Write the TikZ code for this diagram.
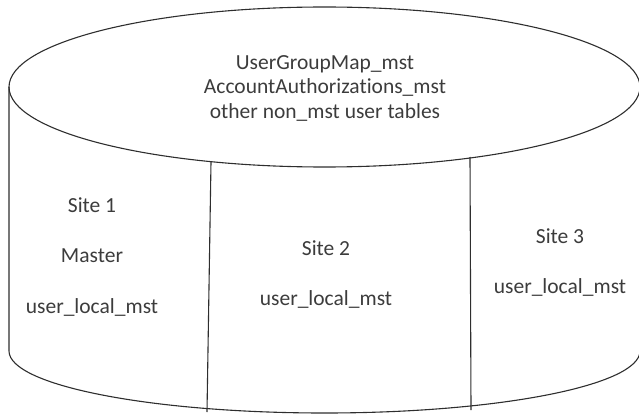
\documentclass[tikz,border=0pt]{standalone}
\usepackage{fontspec}
\setmainfont{Carlito}[Ligatures=NoCommon]
\usepackage{tikz}
\usetikzlibrary{positioning,calc}
\usepackage{xcolor}
\definecolor{DBLine}{HTML}{2E2E2E}
\definecolor{DBText}{HTML}{3C3C3C}

\begin{document}
\begin{tikzpicture}[x=1pt,y=-1pt,
  wall/.style={draw=DBLine,line width=1.1pt},
  t/.style={text=DBText,align=center,inner sep=0pt,font=\fontsize{21.5}{24.5}\selectfont}]
\useasboundingbox (0,0) rectangle (639,417);
% cylinder body
\draw[wall] (9,87) -- (9,351) arc[start angle=180,end angle=360,x radius=315.5,y radius=-62];
\draw[wall] (324.5,87) ellipse[x radius=315.5,y radius=80];
% site dividers
\coordinate (d1a) at (211,162); \coordinate (d1b) at (207,412);
\coordinate (d2a) at (470,157); \coordinate (d2b) at (471,410);
\draw[wall] (d1a) -- (d1b); \draw[wall] (d2a) -- (d2b);
% texts
\node[t] (top) at (325,88) {UserGroupMap\_mst\\AccountAuthorizations\_mst\\other non\_mst user tables};
\node[t] (s1) at (92,205) {Site 1};
\node[t] (m1) at (92,256) {Master};
\node[t] (u1) at (92,307) {user\_local\_mst};
\node[t] (s2) at (326,248) {Site 2};
\node[t] (u2) at (326,299) {user\_local\_mst};
\node[t] (s3) at (560,236) {Site 3};
\node[t] (u3) at (560,287) {user\_local\_mst};
\end{tikzpicture}
\end{document}
